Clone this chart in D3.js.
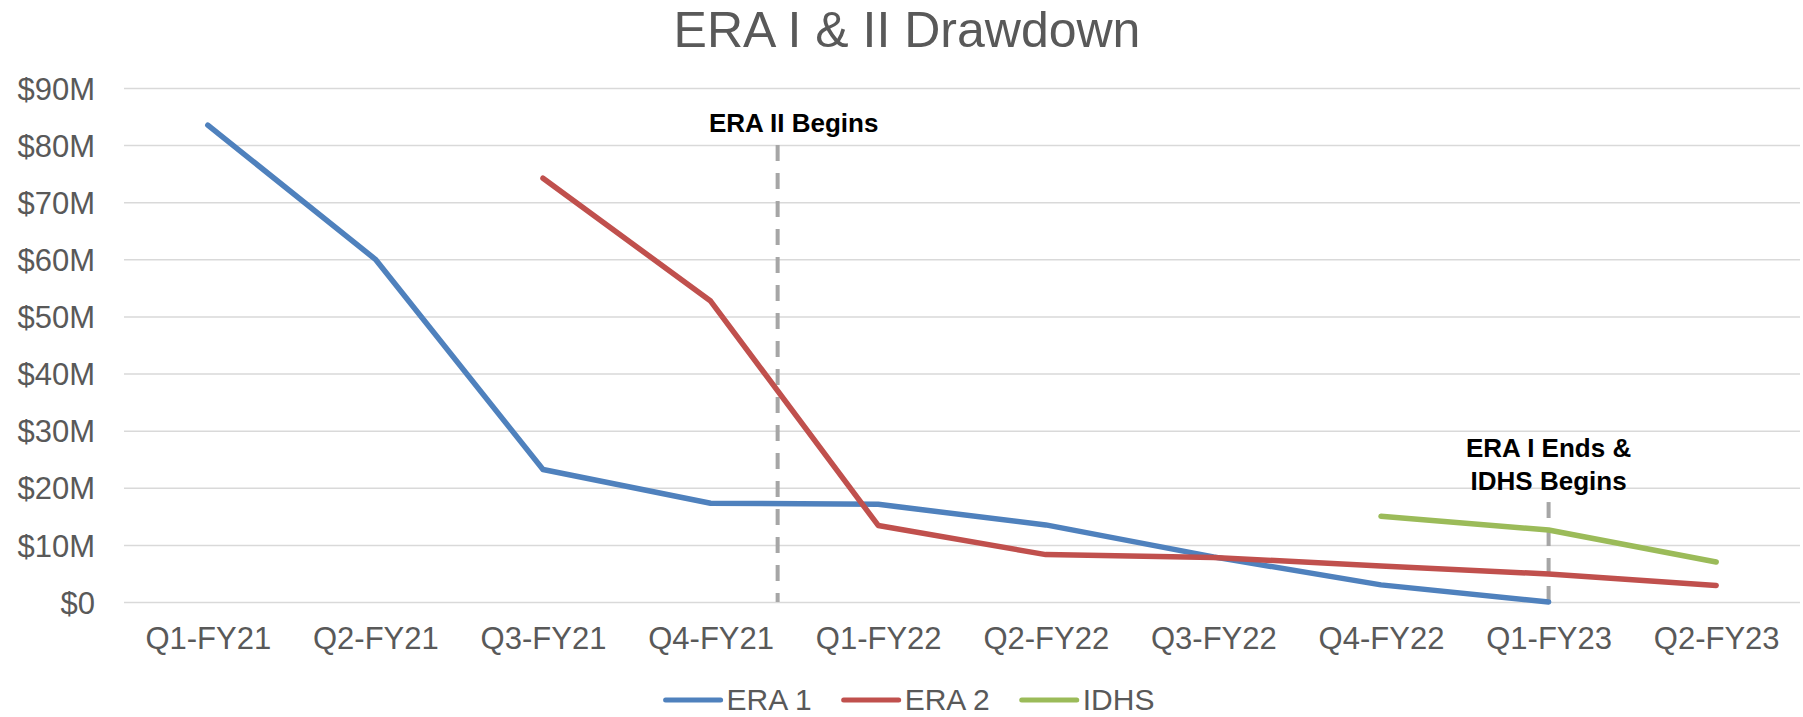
<!DOCTYPE html>
<html>
<head>
<meta charset="utf-8">
<script src="https://cdn.jsdelivr.net/npm/d3@7"></script>
<style>
  body { margin: 0; background: #fff; }
  text { font-family: "Liberation Sans", Arial, sans-serif; }
</style>
</head>
<body>
<svg width="1803" height="717"></svg>
<script>
// quarters on the x axis
var quarters = ["Q1-FY21", "Q2-FY21", "Q3-FY21", "Q4-FY21", "Q1-FY22",
                "Q2-FY22", "Q3-FY22", "Q4-FY22", "Q1-FY23", "Q2-FY23"];

// balances in $M, null = no value
var era1 = [83.5, 60.0, 23.2, 17.3, 17.1, 13.5, 7.9, 3.0, 0.0, null];
var era2 = [null, null, 74.2, 52.7, 13.4, 8.3, 7.8, 6.3, 4.9, 2.9];
var idhs = [null, null, null, null, null, null, null, 15.0, 12.6, 7.0];

var seriesNames = ["ERA 1", "ERA 2", "IDHS"];
var seriesColors = ["#4f81bd", "#c0504d", "#9bbb59"];

var yTicks = [0, 10, 20, 30, 40, 50, 60, 70, 80, 90];

// dashed markers: quarter, offset toward next quarter, top/bottom value, label lines
var markers = [
  { quarter: "Q4-FY21", shift: 0.4, top: 80, bottom: 0, label: ["ERA II Begins"] },
  { quarter: "Q1-FY23", shift: 0, top: 17.5, bottom: -2, label: ["ERA I Ends &", "IDHS Begins"] }
];

var svg = d3.select("svg"),
    plotLeft = 124, plotRight = 1800,
    plotTop = 88, plotBottom = 602;

var xScale = d3.scalePoint().domain(quarters).range([plotLeft, plotRight]).padding(0.5),
    yScale = d3.scaleLinear().domain([0, 90]).range([plotBottom, plotTop]);

// title
svg.append("text")
   .attr("x", 907).attr("y", 47)
   .attr("text-anchor", "middle")
   .style("font-size", "50px")
   .style("fill", "#595959")
   .text("ERA I & II Drawdown");

// gridlines + y labels
var yAxis = svg.append("g")
   .attr("transform", "translate(" + plotLeft + ",0)")
   .call(d3.axisLeft(yScale)
     .tickValues(yTicks)
     .tickSize(-(plotRight - plotLeft))
     .tickPadding(29)
     .tickFormat(function(d) { return d === 0 ? "$0" : "$" + d + "M"; }));
yAxis.select(".domain").remove();
yAxis.selectAll(".tick line").attr("stroke", "#d9d9d9").attr("stroke-width", 1.5);
yAxis.selectAll(".tick text")
   .style("font-size", "31px")
   .style("fill", "#595959")
   .attr("dy", "0.36em");

// x labels
var xAxis = svg.append("g")
   .attr("transform", "translate(0," + plotBottom + ")")
   .call(d3.axisBottom(xScale).tickSize(0).tickPadding(0));
xAxis.select(".domain").remove();
xAxis.selectAll(".tick text")
   .attr("y", 47)
   .attr("dy", 0)
   .style("font-size", "31px")
   .style("fill", "#595959");

// dashed markers
markers.forEach(function(m) {
  var i = quarters.indexOf(m.quarter);
  var x = xScale(quarters[i]) + m.shift * xScale.step();
  svg.append("line")
     .attr("x1", x).attr("x2", x)
     .attr("y1", yScale(m.top)).attr("y2", yScale(m.bottom))
     .attr("stroke", "#a6a6a6")
     .attr("stroke-width", 4)
     .attr("stroke-dasharray", "16,12");
});

// series lines
var allSeries = [era1, era2, idhs];
var line = d3.line()
   .defined(function(d) { return d !== null; })
   .x(function(d, i) { return xScale(quarters[i]); })
   .y(function(d) { return yScale(d); });

allSeries.forEach(function(s, k) {
  svg.append("path")
     .datum(s)
     .attr("d", line)
     .attr("fill", "none")
     .attr("stroke", seriesColors[k])
     .attr("stroke-width", 5.5)
     .attr("stroke-linejoin", "round")
     .attr("stroke-linecap", "round");
});

// marker labels
var labelPos = [{ dx: 16, y: 132 }, { dx: 0, y: 457 }];
markers.forEach(function(m, j) {
  var i = quarters.indexOf(m.quarter);
  var x = xScale(quarters[i]) + m.shift * xScale.step() + labelPos[j].dx;
  var t = svg.append("text")
     .attr("text-anchor", "middle")
     .style("font-size", "26px")
     .style("font-weight", "bold")
     .style("fill", "#000");
  m.label.forEach(function(s, n) {
    t.append("tspan").attr("x", x).attr("y", labelPos[j].y + n * 33).text(s);
  });
});

// legend
var legend = svg.append("g");
var lx = 0;
seriesNames.forEach(function(name, k) {
  var item = legend.append("g").attr("transform", "translate(" + lx + ",0)");
  item.append("line")
      .attr("x1", 0).attr("x2", 55)
      .attr("y1", 700).attr("y2", 700)
      .attr("stroke", seriesColors[k])
      .attr("stroke-width", 5)
      .attr("stroke-linecap", "round");
  var t = item.append("text")
      .attr("x", 61).attr("y", 710)
      .style("font-size", "30px")
      .style("fill", "#595959")
      .text(name);
  lx += 61 + t.node().getComputedTextLength() + 32;
});
var lw = lx - 32;
legend.attr("transform", "translate(" + (910 - lw / 2) + ",0)");
</script>
</body>
</html>
